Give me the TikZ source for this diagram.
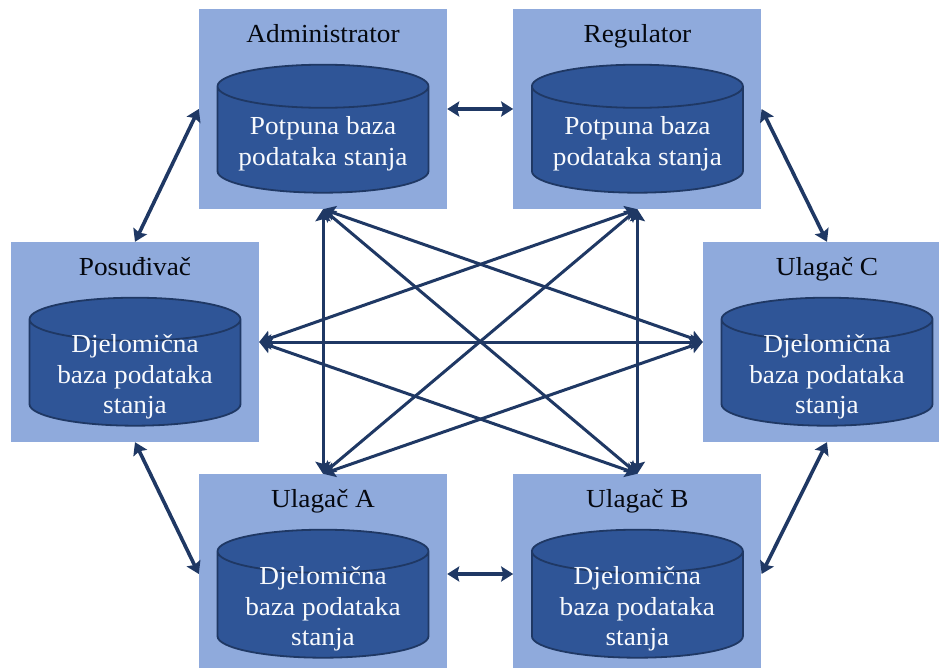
\documentclass[tikz,border=0pt]{standalone}
\usepackage{fontspec}
\usepackage{xcolor}
\usepackage{tikz}
\usetikzlibrary{arrows.meta, positioning, shapes.geometric}
\setmainfont[FakeStretch=1.05]{Liberation Serif}
\definecolor{boxblue}{HTML}{8FAADC}
\definecolor{dbblue}{HTML}{2F5597}
\definecolor{darkline}{HTML}{1F3864}
\newcommand{\dbspace}{\phantom{podataka stanja}}

\begin{document}
\begin{tikzpicture}[x=1pt, y=-1pt,
        box/.style={rectangle, fill=boxblue, minimum width=248pt, minimum height=200pt, inner sep=0pt},
        title/.style={font=\fontsize{26}{28}\selectfont, text=black!85!darkline, inner sep=0pt},
        database/.style={cylinder, shape border rotate=90, shape aspect=0.255, draw=darkline, line width=1.8pt, fill=dbblue,
            minimum width=211pt, minimum height=128pt, inner sep=0pt, font=\fontsize{26}{30.5}\selectfont},
        dbtext/.style={align=center, text=white!94!boxblue, inner sep=0pt, yshift=-4pt,
            font=\fontsize{26}{30.5}\selectfont},
        arrow/.style={{Stealth[length=12pt,width=15pt,inset=2pt]}-{Stealth[length=12pt,width=15pt,inset=2pt]}, line width=3.6pt, draw=darkline},
        link/.style={{Stealth[length=12pt,width=15pt,inset=2pt]}-{Stealth[length=12pt,width=15pt,inset=2pt]}, line width=3pt, draw=darkline}]

        \clip (0,0) rectangle (939,668);

        % Nodes
        \node[box] (admin) at (323,109) {};
        \node[box, right=66pt of admin] (regulator) {};
        \node[box] (posudivac) at (135,342) {};
        \node[box] (ulagacc) at (827,342) {};
        \node[box] (ulagaca) at (323,574) {};
        \node[box, right=66pt of ulagaca] (ulagacb) {};

        % Titles
        \node[title, below=15pt of admin.north] (admintitle) {Administrator};
        \node[title, below=15pt of regulator.north] (regulatortitle) {Regulator};
        \node[title, below=15pt of posudivac.north] (posudivactitle) {Posuđivač};
        \node[title, below=15pt of ulagacc.north] (ulagacctitle) {Ulagač C};
        \node[title, below=15pt of ulagaca.north] (ulagacatitle) {Ulagač A};
        \node[title, below=15pt of ulagacb.north] (ulagacbtitle) {Ulagač B};

        % Databases
        \node[database, below=55pt of admin.north] (admindb) {\dbspace};
        \node[database, below=55pt of regulator.north] (regulatordb) {\dbspace};
        \node[database, below=55pt of posudivac.north] (posudivacdb) {\dbspace};
        \node[database, below=55pt of ulagacc.north] (ulagaccdb) {\dbspace};
        \node[database, below=55pt of ulagaca.north] (ulagacadb) {\dbspace};
        \node[database, below=55pt of ulagacb.north] (ulagacbdb) {\dbspace};

        % Database texts
        \node[dbtext] (admintext) at (admindb.center) {Potpuna baza\\podataka stanja};
        \node[dbtext] (regulatortext) at (regulatordb.center) {Potpuna baza\\podataka stanja};
        \node[dbtext] (posudivactext) at (posudivacdb.center) {Djelomična\\baza podataka\\stanja};
        \node[dbtext] (ulagacctext) at (ulagaccdb.center) {Djelomična\\baza podataka\\stanja};
        \node[dbtext] (ulagacatext) at (ulagacadb.center) {Djelomična\\baza podataka\\stanja};
        \node[dbtext] (ulagacbtext) at (ulagacbdb.center) {Djelomična\\baza podataka\\stanja};

        % Arrows around the ring
        \draw[arrow] (admin.east) -- (regulator.west);
        \draw[arrow] (regulator.east) -- (ulagacc.north);
        \draw[arrow] (ulagacc.south) -- (ulagacb.east);
        \draw[arrow] (ulagacb.west) -- (ulagaca.east);
        \draw[arrow] (ulagaca.west) -- (posudivac.south);
        \draw[arrow] (posudivac.north) -- (admin.west);

        % Arrows across the middle
        \draw[link] (admin.south) -- (ulagaca.north);
        \draw[link] (regulator.south) -- (ulagacb.north);
        \draw[link] (posudivac.east) -- (ulagacc.west);
        \draw[link] (admin.south) -- (ulagacb.north);
        \draw[link] (regulator.south) -- (ulagaca.north);
        \draw[link] (admin.south) -- (ulagacc.west);
        \draw[link] (regulator.south) -- (posudivac.east);
        \draw[link] (ulagaca.north) -- (ulagacc.west);
        \draw[link] (ulagacb.north) -- (posudivac.east);

    \end{tikzpicture}
\end{document}
